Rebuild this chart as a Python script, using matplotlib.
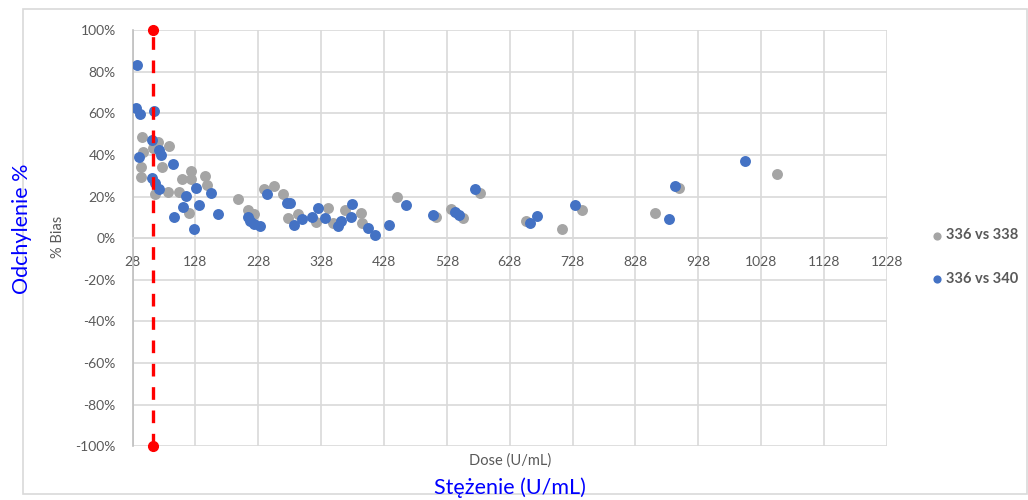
import matplotlib
matplotlib.use("Agg")
import matplotlib.pyplot as plt
from matplotlib.patches import Rectangle

plt.rcParams['font.family'] = ['Lato', 'DejaVu Sans']

# 336 vs 338 (gray)
x_338 = [42.6, 44.2, 41.0, 41.0, 61.1, 68.1, 86.5, 74.9, 63.3, 84.9, 101.9, 106.2,
         120.6, 120.6, 143.8, 147.0, 117.9, 196.3, 211.2, 221.2, 237.6, 253.4, 267.8,
         276.1, 291.7, 319.8, 339.4, 347.3, 366.0, 390.9, 392.5, 448.2, 510.7, 534.5,
         554.1, 580.6, 653.3, 710.6, 742.4, 858.9, 897.4, 1052.5]
y_338 = [48.6, 41.6, 34.4, 29.6, 43.3, 46.4, 44.5, 34.4, 21.3, 22.4, 22.4, 28.4,
         32.5, 28.4, 30.0, 25.3, 12.0, 18.9, 13.3, 11.7, 23.6, 25.2, 21.1,
         9.8, 11.4, 7.6, 14.5, 7.5, 13.3, 12.3, 7.5, 19.6, 10.4, 13.9,
         9.9, 21.6, 8.3, 4.6, 13.6, 12.1, 24.2, 30.8]

# 336 vs 340 (blue)
x_340 = [34.7, 33.1, 39.5, 61.9, 59.5, 70.6, 72.8, 38.3, 92.9, 59.5, 63.8, 70.6,
         113.1, 129.0, 153.6, 108.8, 133.8, 94.5, 125.3, 163.5, 212.2, 214.9, 222.0,
         230.3, 242.4, 273.2, 278.5, 285.3, 298.0, 313.0, 323.5, 334.9, 354.8, 359.6,
         377.6, 375.5, 403.0, 413.7, 436.4, 462.2, 506.4, 541.7, 547.7, 573.5, 660.2,
         670.8, 731.7, 881.7, 891.1, 1002.1]
y_340 = [83.0, 62.3, 59.6, 60.9, 47.3, 42.5, 40.0, 38.9, 35.4, 28.8, 26.4, 23.6,
         20.3, 24.3, 21.6, 14.9, 16.0, 10.4, 4.6, 11.5, 10.2, 8.0, 6.9,
         5.9, 21.2, 16.8, 16.8, 6.4, 9.0, 10.2, 14.7, 9.5, 5.6, 8.3,
         16.5, 10.4, 4.8, 1.7, 6.4, 15.9, 11.2, 12.8, 11.0, 23.6, 7.2,
         10.7, 16.0, 9.4, 25.1, 37.0]

# cutoff line
cut_x = [60, 60]
cut_y = [-100, 100]

x_ticks = list(range(28, 1229, 100))
y_ticks = list(range(-100, 101, 20))

fig = plt.figure(figsize=(10.28, 5.0), dpi=100)
ax = fig.add_axes([132.5/1028, 1-446.3/500, (887-132.5)/1028, (446.3-30)/500])

grid_c = '#d9d9d9'
lab_c = '#595959'

ax.set_xlim(28, 1228)
ax.set_ylim(-100, 100)
ax.set_xticks(x_ticks)
ax.set_yticks(y_ticks)
ax.set_yticklabels([f"{v}%" for v in y_ticks])
ax.grid(True, color=grid_c, linewidth=1.2, zorder=0)
ax.set_axisbelow(True)

for s in ['top', 'right']:
    ax.spines[s].set_visible(False)
ax.spines['left'].set_color('#bfbfbf')
ax.spines['left'].set_linewidth(1.2)
ax.spines['bottom'].set_position(('data', 0))
ax.spines['bottom'].set_color(grid_c)
ax.spines['bottom'].set_linewidth(1.2)

ax.tick_params(axis='both', length=0, labelcolor=lab_c, labelsize=10)
ax.tick_params(axis='y', pad=12)
ax.tick_params(axis='x', pad=13)

ax.scatter(x_338, y_338, s=62, color='#a5a5a5', zorder=3, linewidths=0, label='336 vs 338')
ax.scatter(x_340, y_340, s=62, color='#4472c4', zorder=4, linewidths=0, label='336 vs 340')

ax.plot(cut_x, cut_y, color='#ff0000', linestyle=(0, (3.8, 3.2)), linewidth=2.4,
        marker='o', markersize=7, zorder=5, clip_on=False)

leg = ax.legend(loc='center left', bbox_to_anchor=(917/1028, 1-257/500),
                bbox_transform=fig.transFigure, frameon=False, markerscale=0.75,
                handletextpad=0.1, labelspacing=2.0, handlelength=1.0,
                prop={'weight': 'bold', 'size': 10.5})
for t in leg.get_texts():
    t.set_color(lab_c)

fig.text(58/1028, 1-237/500, '% Bias', rotation=90, ha='center', va='center',
         color=lab_c, fontsize=10.5)
fig.text(510/1028, 1-461/500, 'Dose (U/mL)', ha='center', va='center',
         color=lab_c, fontsize=10.5)
fig.text(22/1028, 1-229/500, 'Odchylenie %', rotation=90, ha='center', va='center',
         color='#0000ff', fontsize=15.5)
fig.text(510/1028, 1-488/500, 'Stężenie (U/mL)', ha='center', va='center',
         color='#0000ff', fontsize=15.5)

fig.patches.append(Rectangle((23/1028, 1-494/500), (1027-23)/1028, (494-9)/500,
                             transform=fig.transFigure, fill=False,
                             edgecolor=grid_c, linewidth=1.2, zorder=0))

fig.savefig('out.png', dpi=100)
